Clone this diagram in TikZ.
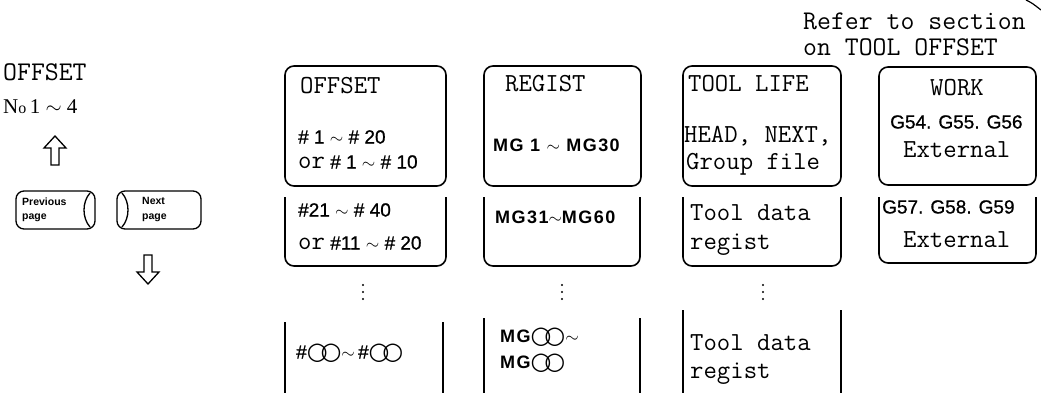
\documentclass[tikz,border=0pt]{standalone}
\usepackage{fontspec}
\setmainfont{Liberation Serif}
\newfontfamily\helv{Liberation Sans}
\newfontfamily\dejavu{DejaVu Sans}
\usetikzlibrary{positioning}
\newcommand{\wordfont}{\ttfamily\fontsize{26}{26}\selectfont\addfontfeature{FakeBold=0.6}}
\newcommand{\cc}{{\dejavu\fontsize{24}{24}\selectfont\raisebox{-1pt}{○\kern-0.3em○}}}

\begin{document}
\begin{tikzpicture}[x=1pt,y=-1pt,
  pane/.style={line width=1.6pt,rounded corners=9pt},
  word/.style={font=\wordfont,inner sep=0pt,text height=15pt,text depth=0pt,anchor=west},
  digits/.style={font=\helv\fontsize{19}{19}\selectfont\addfontfeature{FakeBold=0.8},inner sep=0pt,text height=13pt,text depth=0pt,anchor=west},
  mgtext/.style={digits,font=\helv\bfseries\fontsize{18}{18}\selectfont\addfontfeature{LetterSpace=8}},
  keytext/.style={font=\helv\bfseries\fontsize{10.5}{10.5}\selectfont,inner sep=0pt,anchor=west},
  hollow/.style={line width=1.3pt,line join=miter}]
  \useasboundingbox (0,0) rectangle (1041,393);

  % left side: page keys
  \node[word,font=\wordfont\fontsize{27}{27}\selectfont] (ofslbl) at (3,73) {OFFSET};
  \node[inner sep=0pt,anchor=west,font=\fontsize{21}{21}\selectfont] (nolbl) at (3,107) {N{\fontsize{16}{16}\selectfont o}\,1 $\sim$ 4};
  \draw[hollow] (55,136) -- (66,148) -- (59,148) -- (59,165) -- (51,165) -- (51,148) -- (44,148) -- cycle;
  \draw[line width=1.3pt,rounded corners=8pt] (16,191) rectangle (95,229);
  \draw[line width=1.3pt] (90,193) .. controls (82,202) and (82,218) .. (90,227);
  \node[keytext] (prev) at (22,202) {Previous};
  \node[keytext] (prevpg) at (22,218) {page};
  \draw[line width=1.3pt,rounded corners=8pt] (117,191) rectangle (201,229);
  \draw[line width=1.3pt] (122,193) .. controls (130,202) and (130,218) .. (122,227);
  \node[keytext] (next) at (142,201) {Next};
  \node[keytext] (nextpg) at (142,218) {page};
  \draw[hollow] (148,284) -- (159,272) -- (152,272) -- (152,255) -- (144,255) -- (144,272) -- (137,272) -- cycle;

  % note
  \node[word,font=\wordfont\fontsize{27}{27}\selectfont] (refer) at (803,22) {Refer to section};
  \node[word,font=\wordfont\fontsize{27}{27}\selectfont] (refer2) at (803,48) {on TOOL OFFSET};
  \draw[line width=1.2pt] (1026,0) .. controls (1032,3) .. (1041,10);

  % first screen of each kind
  \draw[pane] (285,66) rectangle (446,186);
  \draw[pane] (484,66) rectangle (641,186);
  \draw[pane] (683,66) rectangle (841,186);
  \draw[pane] (879,67) rectangle (1036,185);

  % following screens
  \draw[pane] (285,197) -- (285,266) -- (446,266) -- (446,197);
  \draw[pane] (484,197) -- (484,266) -- (640,266) -- (640,197);
  \draw[pane] (683,197) -- (683,266) -- (841,266) -- (841,197);
  \draw[pane] (879,197) -- (879,263) -- (1036,263) -- (1036,197);

  % last screens
  \draw[pane] (285,322) -- (285,393);
  \draw[pane] (443,322) -- (443,393);
  \draw[pane] (484,318) -- (484,393);
  \draw[pane] (640,318) -- (640,393);
  \draw[pane] (683,310) -- (683,393);
  \draw[pane] (841,310) -- (841,393);

  \foreach \x in {363,562,763}
    \foreach \y in {285,292,299}
      \fill (\x,\y) circle (1.1pt);

  % OFFSET column
  \node[word] (ofs) at (300,86) {OFFSET};
  \node[digits] (ofsa) at (298,137) {\# 1 $\sim$ \# 20};
  \node[digits] (ofsb) at (298,162) {{\wordfont or} \# 1 $\sim$ \# 10};
  \node[digits] (ofsc) at (298,210) {\#21 $\sim$ \# 40};
  \node[digits] (ofsd) at (298,243) {{\wordfont or} \#11 $\sim$ \# 20};
  \node[digits] (ofse) at (296,352) {\#\cc$\sim$\,\#\cc};

  % REGIST column
  \node[word] (reg) at (505,84) {REGIST};
  \node[mgtext] (rega) at (493,145) {MG 1 $\sim$ MG30};
  \node[mgtext] (regb) at (495,217) {MG31$\sim$MG60};
  \node[mgtext] (regc) at (500,336) {MG\cc$\sim$};
  \node[mgtext] (regd) at (500,362) {MG\cc};

  % TOOL LIFE column
  \node[word] (life) at (688,84) {TOOL LIFE};
  \node[word] (lifea) at (684,135) {HEAD, NEXT,};
  \node[word] (lifeb) at (686,162) {Group file};
  \node[word] (lifec) at (690,213) {Tool data};
  \node[word] (lifed) at (690,242) {regist};
  \node[word] (lifee) at (690,343) {Tool data};
  \node[word] (lifef) at (690,371) {regist};

  % WORK column
  \node[word,anchor=center] (work) at (957,88) {WORK};
  \node[digits] (worka) at (890,122) {G54. G55. G56};
  \node[word] (workb) at (903,150) {External};
  \node[digits] (workc) at (882,207) {G57. G58. G59};
  \node[word] (workd) at (903,240) {External};
\end{tikzpicture}
\end{document}
